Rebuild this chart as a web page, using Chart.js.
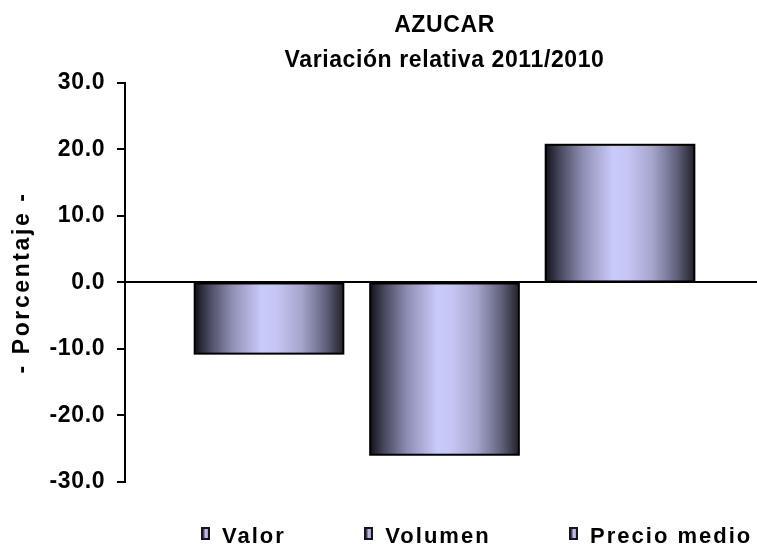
<!DOCTYPE html>
<html lang="es">
<head>
  <meta charset="UTF-8" />
  <title>AZUCAR - Variación relativa 2011/2010</title>
  <script src="https://cdn.jsdelivr.net/npm/chart.js@4"></script>
  <style>
    body {
      margin: 0;
      background: #fff;
      font-family: "Liberation Sans", Arial, sans-serif;
      overflow: hidden;
    }
    /* the plot area runs a few px past the right edge, as in the original */
    #wrap {
      position: relative;
      width: 757px;
      height: 546px;
      overflow: hidden;
    }
    #legend {
      position: absolute;
      left: 201px;
      top: 525px;
      display: flex;
      gap: 78.5px;
    }
    #legend .item {
      display: flex;
      align-items: flex-start;
      font-weight: bold;
      font-size: 22px;
      line-height: 22px;
      letter-spacing: 2px;
      color: #000;
      white-space: nowrap;
    }
    #legend .box {
      width: 5px;
      height: 9px;
      margin-top: 2px;
      margin-right: 12px;
      border: 2px solid #15151c;
      background: linear-gradient(to right, #2a2a3a, #c8c8f8 55%, #9a9ac0);
    }
  </style>
</head>
<body>
  <div id="wrap">
    <canvas id="chart" width="764" height="546"></canvas>
    <div id="legend"></div>
  </div>

  <script>
    const categories = [''];
    const seriesNames = ['Valor', 'Volumen', 'Precio medio'];
    const seriesValues = [-10.7, -25.9, 20.7];
    const yTicks = [-30, -20, -10, 0, 10, 20, 30];

    Chart.defaults.font.family = '"Liberation Sans", Arial, sans-serif';
    Chart.defaults.color = '#000';

    // cylinder-like shading on the bars + letter spacing for the texts
    const look = {
      id: 'look',
      beforeLayout(chart) { chart.ctx.letterSpacing = '0.6px'; },
      beforeDraw(chart) { chart.ctx.letterSpacing = '0.6px'; },
      afterDatasetsDraw(chart) {
        const ctx = chart.ctx;
        chart.data.datasets.forEach((ds, i) => {
          chart.getDatasetMeta(i).data.forEach(bar => {
            const p = bar.getProps(['x', 'y', 'base', 'width'], true);
            if (p.y == null || isNaN(p.y)) return;
            const left = p.x - p.width / 2;
            const top = Math.min(p.y, p.base);
            const h = Math.abs(p.base - p.y);
            const g = ctx.createLinearGradient(left, 0, left + p.width, 0);
            g.addColorStop(0, '#13131b');
            g.addColorStop(0.1, '#4a4a62');
            g.addColorStop(0.25, '#8e8eb4');
            g.addColorStop(0.45, '#cacafa');
            g.addColorStop(0.55, '#c6c6f4');
            g.addColorStop(0.72, '#a4a4cc');
            g.addColorStop(0.88, '#62627e');
            g.addColorStop(1, '#22222a');
            ctx.save();
            ctx.fillStyle = g;
            ctx.fillRect(left, top, p.width, h);
            ctx.lineWidth = 2;
            ctx.strokeStyle = '#000';
            ctx.strokeRect(left, top, p.width, h);
            ctx.restore();
          });
        });
        ctx.letterSpacing = '2.6px';
      }
    };

    new Chart(document.getElementById('chart'), {
      type: 'bar',
      data: {
        labels: categories,
        datasets: seriesNames.map((name, i) => ({
          label: name,
          data: [seriesValues[i]],
          backgroundColor: '#b8b8e8',
          borderWidth: 0,
          categoryPercentage: 0.824,
          barPercentage: 0.847
        }))
      },
      options: {
        responsive: false,
        devicePixelRatio: 1,
        animation: false,
        layout: { padding: { left: 5, right: 0, top: 0, bottom: 64 } },
        plugins: {
          legend: { display: false },
          tooltip: { enabled: false },
          title: {
            display: true,
            text: ['AZUCAR', 'Variación relativa 2011/2010'],
            fullSize: false,
            color: '#000',
            font: { size: 23, weight: 'bold', lineHeight: 1.52 },
            padding: { top: 8, bottom: 5 }
          }
        },
        scales: {
          x: { display: false },
          y: {
            min: yTicks[0],
            max: yTicks[yTicks.length - 1],
            afterBuildTicks: s => { s.ticks = yTicks.map(v => ({ value: v })); },
            ticks: {
              callback: v => Number(v).toFixed(1),
              color: '#000',
              font: { size: 23, weight: 'bold' },
              padding: 12
            },
            grid: {
              z: 1,
              color: c => (c.tick && c.tick.value === 0 ? '#000' : 'rgba(0,0,0,0)'),
              lineWidth: 2,
              tickColor: '#000',
              tickWidth: 2,
              tickLength: 8
            },
            border: { z: 1, color: '#000', width: 2 },
            title: {
              display: true,
              text: '- Porcentaje -',
              color: '#000',
              font: { size: 23, weight: 'bold' },
              padding: { top: 4, bottom: 1 }
            }
          }
        }
      },
      plugins: [look]
    });

    const legendBox = document.getElementById('legend');
    seriesNames.forEach(name => {
      const item = document.createElement('div');
      item.className = 'item';
      const box = document.createElement('span');
      box.className = 'box';
      item.appendChild(box);
      item.appendChild(document.createTextNode(name));
      legendBox.appendChild(item);
    });
  </script>
</body>
</html>
